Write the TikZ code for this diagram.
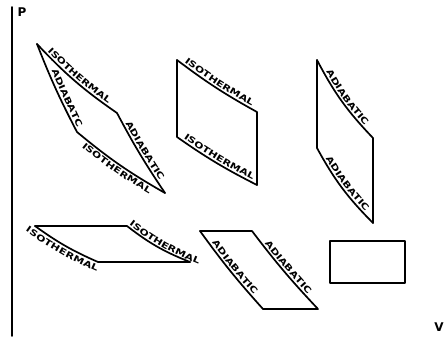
\documentclass[tikz,border=0pt]{standalone}
\usepackage{fontspec}
\usetikzlibrary{decorations.text, calc}
\newfontfamily\lblfont{DejaVu Sans Bold}[FakeStretch=1.3]
\newfontfamily\axisfont{DejaVu Sans Bold}
\tikzset{
  curve/.style={line width=1.7pt, line cap=round, line join=round},
  lbl/.style={decorate, decoration={text along path, text align=center, raise=2.5pt,
    text={|\lblfont\fontsize{8.5}{8.5}\selectfont|#1}}},
  lblbelow/.style={decorate, decoration={text along path, text align=center, raise=-8.8pt,
    text={|\lblfont\fontsize{8.5}{8.5}\selectfont|#1}}},
  axislbl/.style={font=\axisfont\fontsize{12}{12}\selectfont, inner sep=0pt},
}
\begin{document}
\begin{tikzpicture}[x=1pt, y=-1pt]
  \useasboundingbox (0,0) rectangle (446,338);
  % Axis
  \coordinate (ptop) at (12,7);
  \coordinate (pbot) at (12,336);
  \draw[curve] (ptop) -- (pbot);
  \node[axislbl] (p) at (22,12) {P};
  \node[axislbl] (v) at (439,327) {V};
  % Cycle of two isothermals and two adiabatics
  \coordinate (a1) at (37,44);
  \coordinate (b1) at (117,113);
  \coordinate (c1) at (165,193);
  \coordinate (d1) at (77,132);
  \draw[curve] (a1) to[bend right=6] (b1) to[bend right=3] (c1);
  \draw[curve] (a1) to[bend right=3] (d1) to[bend right=5] (c1);
  \path[lbl=ISOTHERMAL] (a1) to[bend right=6] (b1);
  \path[lbl=ADIABATIC] (b1) to[bend right=3] (c1);
  \path[lbl=ADIABATC] ($(a1)!26pt!(d1)$) to[bend right=2] (d1);
  \path[lblbelow=ISOTHERMAL] (d1) to[bend right=5] (c1);
  % Two isothermals, two isochores
  \coordinate (a2) at (177,60);
  \coordinate (b2) at (257,112);
  \coordinate (c2) at (257,185);
  \coordinate (d2) at (177,137);
  \draw[curve] (a2) to[bend right=4] (b2) -- (c2);
  \draw[curve] (a2) -- (d2) to[bend right=4] (c2);
  \path[lbl=ISOTHERMAL] (a2) to[bend right=4] (b2);
  \path[lbl=ISOTHERMAL] (d2) to[bend right=4] (c2);
  % Two adiabatics, two isochores
  \coordinate (a3) at (317,60);
  \coordinate (b3) at (373,138);
  \coordinate (c3) at (373,223);
  \coordinate (d3) at (317,148);
  \draw[curve] (a3) to[bend right=8] (b3) -- (c3);
  \draw[curve] (a3) -- (d3) to[bend right=8] (c3);
  \path[lbl=ADIABATIC] (a3) to[bend right=8] (b3);
  \path[lbl=ADIABATIC] (d3) to[bend right=8] (c3);
  % Two isothermals, two isobars
  \coordinate (a4) at (35,226);
  \coordinate (b4) at (127,226);
  \coordinate (c4) at (190,262);
  \coordinate (d4) at (98,262);
  \draw[curve] (a4) -- (b4) to[bend right=8] (c4);
  \draw[curve] (a4) to[bend right=6] (d4) -- (c4);
  \path[lbl=ISOTHERMAL] ($(b4)!-2pt!(c4)$) to[bend right=8] ($(c4)!-12pt!(b4)$);
  \path[lblbelow=ISOTHERMAL] ($(a4)!-8pt!(d4)$) to[bend right=6] ($(d4)!-6pt!(a4)$);
  % Two adiabatics, two isobars
  \coordinate (a5) at (200,231);
  \coordinate (b5) at (252,231);
  \coordinate (c5) at (318,309);
  \coordinate (d5) at (263,309);
  \draw[curve] (a5) -- (b5) to[bend right=3] (c5) -- (d5);
  \draw[curve] (a5) to[bend right=3] (d5);
  \path[lbl=ADIABATIC] (b5) to[bend right=3] (c5);
  \path[lbl=ADIABATIC] (a5) to[bend right=3] (d5);
  % Two isobars, two isochores
  \draw[curve] (330,241) rectangle (405,283);
\end{tikzpicture}
\end{document}
